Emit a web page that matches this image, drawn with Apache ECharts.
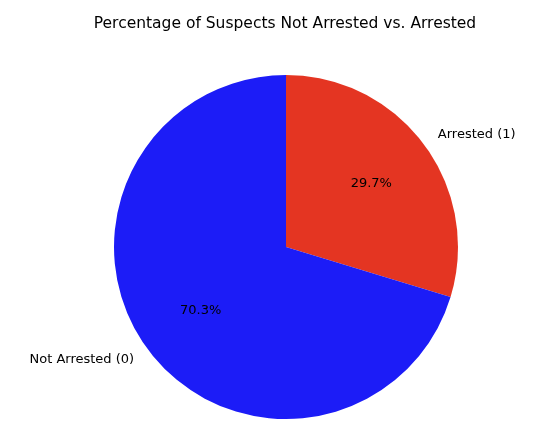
<!DOCTYPE html>
<html><head><meta charset="utf-8">
<script src="https://cdn.jsdelivr.net/npm/echarts@6/dist/echarts.min.js"></script>
<style>html,body{margin:0;padding:0;background:#fff}#c{width:540px;height:440px}</style>
</head><body><div id="c"></div>
<script>
const categories = ['Arrested (1)', 'Not Arrested (0)'];
const percentages = [29.7, 70.3];
const colors = ['#e43522', '#1c1cf7'];
const titleText = 'Percentage of Suspects Not Arrested vs. Arrested';

const cx = 286, cy = 247, R = 172;
const font = 'DejaVu Sans';
const data = categories.map((c, i) => ({ name: c, value: percentages[i], itemStyle: { color: colors[i] } }));
const chart = echarts.init(document.getElementById('c'));
chart.setOption({
  animation: false,
  title: { text: titleText, left: 280, top: 11, textAlign: 'center',
    textStyle: { fontFamily: font, fontSize: 15.5, fontWeight: 'normal', color: '#000' } },
  series: [
    { type: 'pie', center: [cx, cy], radius: [0, R], startAngle: 90, clockwise: true, silent: true,
      data: data,
      itemStyle: { borderWidth: 0 },
      label: { show: true, position: 'outside', fontFamily: font, fontSize: 13, color: '#000',
        formatter: '{b}', distanceToLabelLine: 0 },
      labelLine: { show: false, length: 17, length2: 0 },
      labelLayout: { hideOverlap: false }
    },
    { type: 'pie', center: [cx, cy], radius: [R * 0.2, R], startAngle: 90, clockwise: true, silent: true,
      data: categories.map((c, i) => ({ name: c, value: percentages[i] })),
      itemStyle: { color: 'rgba(0,0,0,0)', borderWidth: 0 },
      label: { show: true, position: 'inside', fontFamily: font, fontSize: 13, color: '#000',
        formatter: p => p.value.toFixed(1) + '%' },
      labelLine: { show: false }
    }
  ]
});
</script></body></html>
